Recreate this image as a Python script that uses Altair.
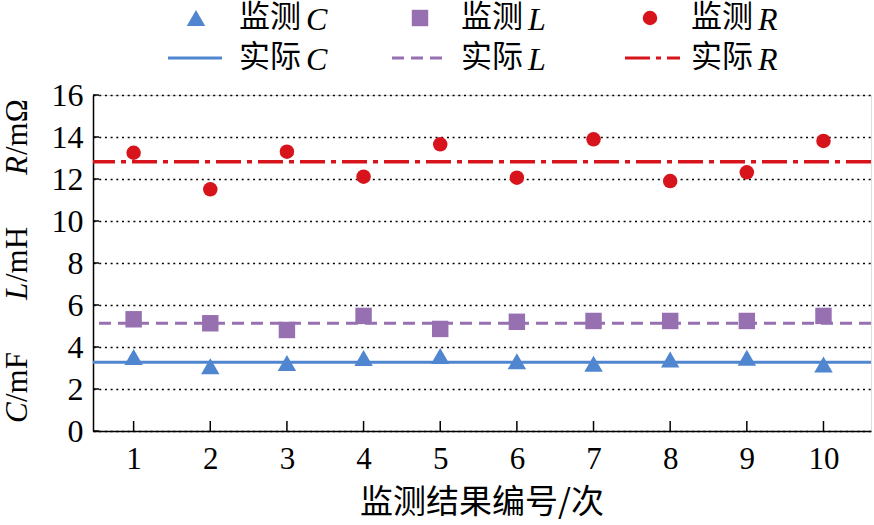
import altair as alt
import pandas as pd

# ---- data ----
runs = [1, 2, 3, 4, 5, 6, 7, 8, 9, 10]
meas_C = [3.52, 3.08, 3.24, 3.48, 3.57, 3.32, 3.20, 3.40, 3.49, 3.17]
meas_L = [5.32, 5.13, 4.81, 5.48, 4.86, 5.20, 5.24, 5.24, 5.24, 5.48]
meas_R = [13.25, 11.51, 13.30, 12.11, 13.65, 12.06, 13.89, 11.90, 12.32, 13.81]
actual = {"C": 3.27, "L": 5.13, "R": 12.82}
y_ticks = [0, 2, 4, 6, 8, 10, 12, 14, 16]
x_ticks = runs
x_title = "监测结果编号/次"
legend_meas = ["监测", "监测", "监测"]
legend_act = ["实际", "实际", "实际"]
letters = ["C", "L", "R"]
units = ["/mF", "/mH", "/mΩ"]

BLUE = "#4F86CF"
PURPLE = "#9670B0"
RED = "#D7141C"
SERIF = "Liberation Serif"
CJK = "Noto Sans CJK SC"
FS = 31
FS_CJK = 31

W, H = 778, 336

xs = alt.Scale(domain=[0.47, 10.62], nice=False, zero=False)
ys = alt.Scale(domain=[0, 16], nice=False)

df = pd.DataFrame({"run": runs, "C": meas_C, "L": meas_L, "R": meas_R})

xenc = alt.X("run:Q", scale=xs,
             axis=alt.Axis(values=x_ticks, title=None, grid=False, ticks=False,
                           labelFont=SERIF, labelFontSize=FS, labelPadding=13,
                           labelColor="black", domainColor="black", domainWidth=1.5,
                           format="d"))

base = alt.Chart(df)

grid = base.mark_point(opacity=0).encode(
    x=xenc,
    y=alt.Y("C:Q", scale=ys,
            axis=alt.Axis(values=y_ticks, title=None, grid=True, gridDash=[2, 3.7],
                          gridColor="black", gridWidth=1.5, ticks=False,
                          labelFont=SERIF, labelFontSize=FS + 1, labelPadding=10,
                          labelColor="black", domainColor="black", domainWidth=1.5)),
)

adf = pd.DataFrame({"k": list(actual.keys()), "v": list(actual.values())})
line_C = alt.Chart(adf[adf.k == "C"]).mark_rule(color=BLUE, strokeWidth=3).encode(
    y=alt.Y("v:Q", scale=ys))
line_L = alt.Chart(adf[adf.k == "L"]).mark_rule(color=PURPLE, strokeWidth=3,
                                                strokeDash=[12, 7]).encode(
    y=alt.Y("v:Q", scale=ys))
line_R = alt.Chart(adf[adf.k == "R"]).mark_rule(color=RED, strokeWidth=3.5,
                                                strokeDash=[25, 6, 5, 6]).encode(
    y=alt.Y("v:Q", scale=ys))

pts_C = base.mark_point(shape="triangle-up", filled=True, size=340, color=BLUE,
                        opacity=1).encode(x=alt.X("run:Q", scale=xs),
                                          y=alt.Y("C:Q", scale=ys))
pts_L = base.mark_point(shape="square", filled=True, size=270, color=PURPLE,
                        opacity=1).encode(x=alt.X("run:Q", scale=xs),
                                          y=alt.Y("L:Q", scale=ys))
pts_R = base.mark_point(shape="circle", filled=True, size=210, color=RED,
                        opacity=1).encode(x=alt.X("run:Q", scale=xs),
                                          y=alt.Y("R:Q", scale=ys))

# inward ticks
ytk = alt.Chart(pd.DataFrame({"v": y_ticks})).mark_rule(color="black", strokeWidth=1.5).encode(
    y=alt.Y("v:Q", scale=ys), x=alt.value(0), x2=alt.value(6))
xtk = alt.Chart(pd.DataFrame({"v": x_ticks})).mark_rule(color="black", strokeWidth=1.5).encode(
    x=alt.X("v:Q", scale=xs), y=alt.value(H), y2=alt.value(H - 10))

layers = [grid, line_C, line_L, line_R, ytk, xtk, pts_C, pts_L, pts_R]

# x title
layers.append(alt.Chart(pd.DataFrame({"t": [x_title]})).mark_text(
    font=CJK, fontSize=33, baseline="middle", align="center", color="black").encode(
    text="t:N", x=alt.value(W / 2), y=alt.value(408)))

# y title (rotated, bottom-to-top)
ybottoms = [328, 205, 80]
offs = [21, 18, 20]
for letter, unit, yb, off in zip(letters, units, ybottoms, offs):
    layers.append(alt.Chart(pd.DataFrame({"t": [letter]})).mark_text(
        font=SERIF, fontSize=FS, fontStyle="italic", angle=270, align="left",
        baseline="middle", color="black").encode(
        text="t:N", x=alt.value(-75), y=alt.value(yb)))
    layers.append(alt.Chart(pd.DataFrame({"t": [unit]})).mark_text(
        font=SERIF, fontSize=FS, angle=270, align="left",
        baseline="middle", color="black").encode(
        text="t:N", x=alt.value(-75), y=alt.value(yb - off)))

# legend
row1, row2 = -77, -37
sym_x = [103, 327, 557]
txt_x = [146, 368, 598]
seg = [(75, 129), (299, 355), (532, 587)]
shapes = ["triangle-up", "square", "circle"]
sizes = [340, 270, 210]
colors = [BLUE, PURPLE, RED]
dashes = [None, [12, 7], [25, 6, 5, 6]]
one = pd.DataFrame({"d": [0]})
for i in range(3):
    layers.append(alt.Chart(one).mark_point(shape=shapes[i], filled=True, size=sizes[i],
                                            color=colors[i], opacity=1).encode(
        x=alt.value(sym_x[i]), y=alt.value(row1)))
    kw = dict(color=colors[i], strokeWidth=3)
    if dashes[i]:
        kw["strokeDash"] = dashes[i]
    layers.append(alt.Chart(one).mark_rule(**kw).encode(
        x=alt.value(seg[i][0]), x2=alt.value(seg[i][1]), y=alt.value(row2)))
    for row, word in ((row1, legend_meas[i]), (row2, legend_act[i])):
        layers.append(alt.Chart(pd.DataFrame({"t": [word]})).mark_text(
            font=CJK, fontSize=FS_CJK, align="left", baseline="middle", color="black").encode(
            text="t:N", x=alt.value(txt_x[i]), y=alt.value(row)))
        layers.append(alt.Chart(pd.DataFrame({"t": [letters[i]]})).mark_text(
            font=SERIF, fontSize=FS + 1, fontStyle="italic", align="left", baseline="middle",
            color="black").encode(
            text="t:N", x=alt.value(txt_x[i] + 2 * FS_CJK + 5), y=alt.value(row + 2)))

chart = alt.layer(*layers).properties(
    width=W, height=H,
    padding={"left": 93, "top": 95, "right": 3, "bottom": 94},
    autosize=alt.AutoSizeParams(type="none"),
).configure_view(stroke=None).configure(background="white")

chart.save("out.html", embed_options={"renderer": "svg", "actions": False})
